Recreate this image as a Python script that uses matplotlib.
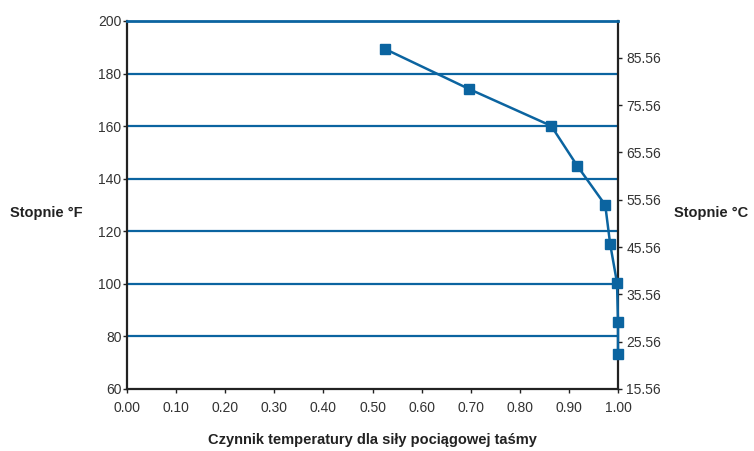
import matplotlib.pyplot as plt
import numpy as np

plt.rcParams['font.family'] = ['Liberation Sans', 'DejaVu Sans']

# values
factor = [0.525, 0.697, 0.864, 0.917, 0.974, 0.984, 0.998, 1.0, 1.0]
temp_f = [189.4, 174.1, 160.1, 144.9, 130.0, 115.2, 100.4, 85.6, 73.4]

f_ticks = [60, 80, 100, 120, 140, 160, 180, 200]
c_ticks = [15.56, 25.56, 35.56, 45.56, 55.56, 65.56, 75.56, 85.56]
x_ticks = np.arange(0, 1.01, 0.1)

BLUE = '#0b64a0'
GREY = '#333333'

fig = plt.figure(figsize=(7.54, 4.51), dpi=100)
ax = fig.add_axes([127/754, 1-389/451, 491/754, 368/451])

for f in f_ticks[1:-1]:
    ax.axhline(f, color=BLUE, lw=1.6, zorder=1)

ax.set_xlim(0, 1)
ax.set_ylim(60, 200)
ax.set_xticks(x_ticks)
ax.set_xticklabels(['%.2f' % v for v in x_ticks])
ax.set_yticks(f_ticks)

for s in ['left', 'right', 'bottom']:
    ax.spines[s].set_color('#222222')
    ax.spines[s].set_linewidth(1.6)
ax.spines['top'].set_color(BLUE)
ax.spines['top'].set_linewidth(2)

ax.tick_params(axis='both', direction='out', length=3, width=1, color='#222222',
               labelsize=10, labelcolor=GREY)
ax.tick_params(axis='x', pad=6)
ax.tick_params(axis='y', pad=1)

# right axis in celsius
ax2 = ax.twinx()
ax2.set_ylim(60, 200)
ax2.set_yticks([c * 9 / 5 + 32 for c in c_ticks])
ax2.set_yticklabels(['%.2f' % c for c in c_ticks])
ax2.tick_params(axis='y', direction='out', length=3, width=1, color='#222222',
                labelsize=10, labelcolor=GREY, pad=3)
for s in ax2.spines.values():
    s.set_visible(False)

# series on top of the spines, markers at x=1 not clipped
ax2.plot(factor, temp_f, color=BLUE, lw=1.8, marker='s', ms=7.5, zorder=5, clip_on=False)

fig.text(10/754, 1-213/451, 'Stopnie °F', fontsize=10.5, fontweight='bold',
         color='#222222', va='center', ha='left')
fig.text(674/754, 1-213/451, 'Stopnie °C', fontsize=10.5, fontweight='bold',
         color='#222222', va='center', ha='left')
fig.text(372/754, 1-440/451, 'Czynnik temperatury dla siły pociągowej taśmy',
         fontsize=10.5, fontweight='bold', color='#222222', va='center', ha='center')

fig.savefig('out.png', dpi=100)
